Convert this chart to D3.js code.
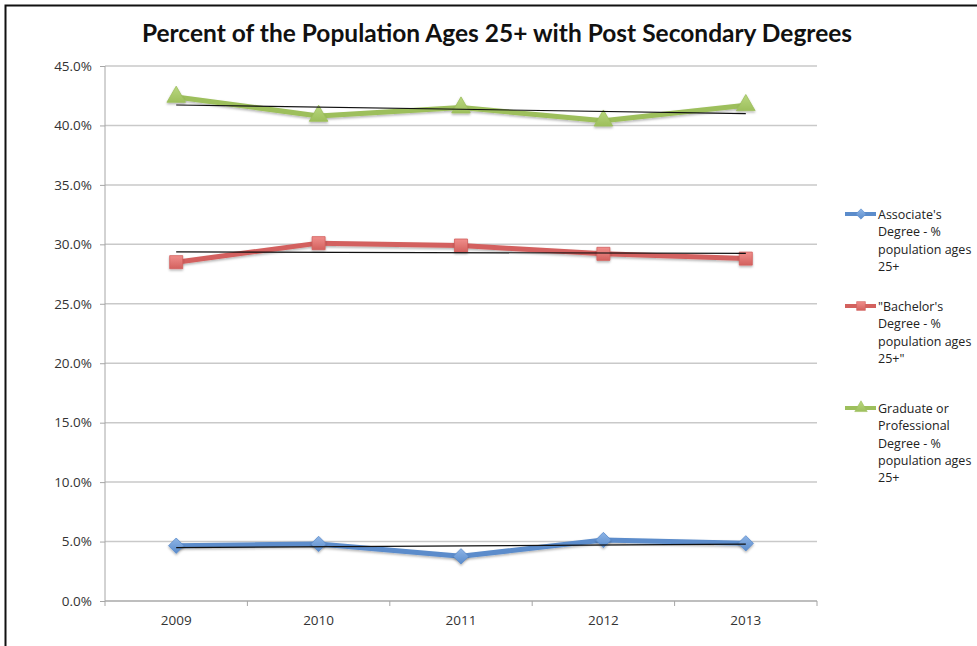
<!DOCTYPE html>
<html>
<head>
<meta charset="utf-8">
<script src="https://cdn.jsdelivr.net/npm/d3@7"></script>
<style>
  body { margin: 0; background: #fff; }
  svg text { font-family: "Open Sans", sans-serif; }
</style>
</head>
<body>
<div id="chart"></div>
<script>
// data
var years = ["2009", "2010", "2011", "2012", "2013"];
var associate = [4.65, 4.8, 3.76, 5.13, 4.85];
var bachelor = [28.5, 30.1, 29.9, 29.2, 28.8];
var graduate = [42.4, 40.8, 41.5, 40.4, 41.7];
var yTicks = [0, 5, 10, 15, 20, 25, 30, 35, 40, 45];
var seriesNames = [
    ["Associate's", "Degree - %", "population ages", "25+"],
    ["\"Bachelor's", "Degree - %", "population ages", "25+\""],
    ["Graduate or", "Professional", "Degree - %", "population ages", "25+"]
];

var series = [
    {name: seriesNames[0], values: associate, color: "#5b8ccb", light: "#8db4e6", symbol: d3.symbolDiamond2, size: 150},
    {name: seriesNames[1], values: bachelor, color: "#d3615e", light: "#f08e8b", symbol: d3.symbolSquare, size: 170},
    {name: seriesNames[2], values: graduate, color: "#9dbf5c", light: "#b9d77f", symbol: d3.symbolTriangle, size: 150}
];

var W = 977, H = 646;
var margin = {top: 66, right: 160, bottom: 45, left: 105},
    width = 817 - margin.left,
    height = 601 - margin.top;

var root = d3.select("#chart")
    .append("svg")
    .attr("width", W)
    .attr("height", H);

// frame (left and top edges visible)
root.append("path")
    .attr("d", "M5.5," + H + "V5.5H" + W)
    .attr("fill", "none")
    .attr("stroke", "#111")
    .attr("stroke-width", 2);

var defs = root.append("defs");
var shadow = defs.append("filter").attr("id", "shadow")
    .attr("x", "-30%").attr("y", "-30%").attr("width", "160%").attr("height", "160%");
shadow.append("feDropShadow")
    .attr("dx", 0).attr("dy", 1.5).attr("stdDeviation", 1.2)
    .attr("flood-color", "#000").attr("flood-opacity", 0.3);

series.forEach(function (s, i) {
    var g = defs.append("linearGradient").attr("id", "grad" + i)
        .attr("x1", 0).attr("y1", 0).attr("x2", 0).attr("y2", 1);
    g.append("stop").attr("offset", "0%").attr("stop-color", s.light);
    g.append("stop").attr("offset", "100%").attr("stop-color", s.color);
});

root.append("text")
    .attr("x", 497)
    .attr("y", 42)
    .attr("text-anchor", "middle")
    .style("font-family", "Lato, sans-serif")
    .style("font-weight", "bold")
    .style("font-size", "24.5px")
    .attr("fill", "#111")
    .text("Percent of the Population Ages 25+ with Post Secondary Degrees");

var svg = root.append("g")
    .attr("transform", "translate(" + margin.left + "," + margin.top + ")");

var x = d3.scalePoint()
    .domain(years)
    .range([0, width])
    .padding(0.5);

var y = d3.scaleLinear()
    .domain([0, 45])
    .range([height, 0]);

// gridlines
svg.append("g")
    .selectAll("line")
    .data(yTicks)
    .enter()
    .append("line")
    .attr("x1", 0)
    .attr("x2", width)
    .attr("y1", function (d) { return y(d); })
    .attr("y2", function (d) { return y(d); })
    .attr("stroke", "#c9c9c9")
    .attr("stroke-width", 1.5);

// y axis
var yAxis = svg.append("g")
    .call(d3.axisLeft(y).tickValues(yTicks).tickSize(5).tickPadding(8)
        .tickFormat(function (d) { return d.toFixed(1) + "%"; }));
yAxis.selectAll("text").style("font-size", "13.5px").attr("fill", "#333");
yAxis.selectAll("line").attr("stroke", "#a6a6a6");
yAxis.select(".domain").attr("stroke", "#a6a6a6").attr("d", "M0,0V" + height);

// x axis: ticks at category boundaries
var step = x.step();
var xAxis = svg.append("g")
    .attr("transform", "translate(0," + height + ")");
xAxis.append("line")
    .attr("x1", 0).attr("x2", width)
    .attr("stroke", "#a6a6a6");
xAxis.selectAll(".tk")
    .data(d3.range(years.length + 1))
    .enter()
    .append("line")
    .attr("x1", function (d) { return d * step; })
    .attr("x2", function (d) { return d * step; })
    .attr("y1", 0).attr("y2", 5)
    .attr("stroke", "#a6a6a6");
xAxis.selectAll(".lbl")
    .data(years)
    .enter()
    .append("text")
    .attr("x", function (d) { return x(d); })
    .attr("y", 24)
    .attr("text-anchor", "middle")
    .style("font-size", "13.5px")
    .attr("fill", "#333")
    .text(function (d) { return d; });

var line = d3.line()
    .x(function (d, i) { return x(years[i]); })
    .y(function (d) { return y(d); });

// series lines and markers
series.forEach(function (s, i) {
    svg.append("path")
        .datum(s.values)
        .attr("d", line)
        .attr("fill", "none")
        .attr("stroke", s.color)
        .attr("stroke-width", 5)
        .attr("stroke-linejoin", "round")
        .attr("filter", "url(#shadow)");

    svg.append("g")
        .selectAll("path")
        .data(s.values)
        .enter()
        .append("path")
        .attr("d", d3.symbol().type(s.symbol).size(s.size))
        .attr("transform", function (d, j) { return "translate(" + x(years[j]) + "," + y(d) + ")"; })
        .attr("fill", "url(#grad" + i + ")")
        .attr("stroke", s.color)
        .attr("stroke-width", 0.8)
        .attr("filter", "url(#shadow)");
});

// linear trendlines (least squares on the same values)
series.forEach(function (s) {
    var n = s.values.length;
    var mx = (n - 1) / 2, my = d3.mean(s.values);
    var num = d3.sum(s.values, function (v, k) { return (k - mx) * (v - my); });
    var den = d3.sum(s.values, function (v, k) { return (k - mx) * (k - mx); });
    var slope = num / den;
    svg.append("line")
        .attr("x1", x(years[0]))
        .attr("x2", x(years[n - 1]))
        .attr("y1", y(my - slope * mx))
        .attr("y2", y(my + slope * mx))
        .attr("stroke", "#111")
        .attr("stroke-width", 1.2);
});

// legend
var legendTop = [214, 306, 408];
var legend = root.append("g");
series.forEach(function (s, i) {
    var lg = legend.append("g")
        .attr("transform", "translate(845," + legendTop[i] + ")");
    lg.append("line")
        .attr("x1", 0).attr("x2", 31)
        .attr("y1", 0).attr("y2", 0)
        .attr("stroke", s.color)
        .attr("stroke-width", 4);
    lg.append("path")
        .attr("d", d3.symbol().type(s.symbol).size(s.size * 0.45))
        .attr("transform", "translate(16,0)")
        .attr("fill", "url(#grad" + i + ")")
        .attr("stroke", s.color)
        .attr("stroke-width", 0.6);
    lg.selectAll("text")
        .data(s.name)
        .enter()
        .append("text")
        .attr("x", 33)
        .attr("y", function (d, k) { return 5 + k * 17.3; })
        .style("font-size", "12.5px")
        .attr("fill", "#222")
        .text(function (d) { return d; });
});
</script>
</body>
</html>
